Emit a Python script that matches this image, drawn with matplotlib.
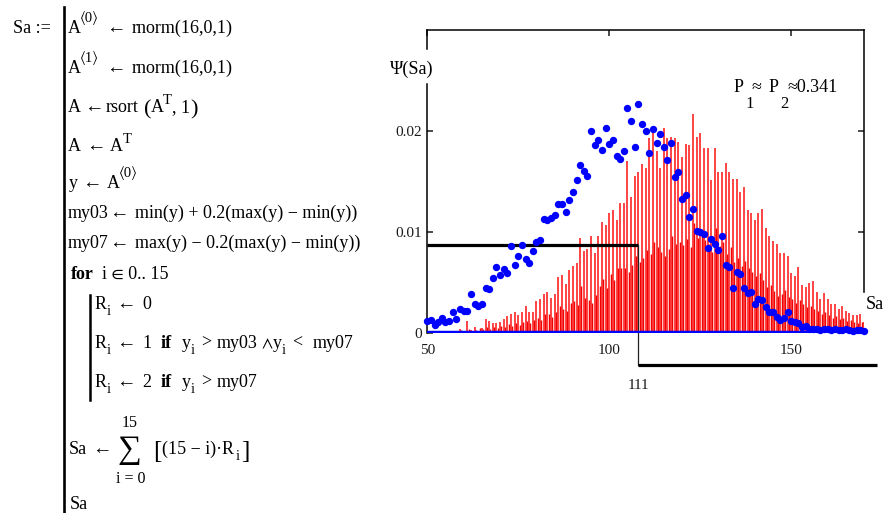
import numpy as np
import matplotlib
matplotlib.use("Agg")
import matplotlib.pyplot as plt
from matplotlib import transforms

# ---- data ---------------------------------------------------------------
sa = np.arange(50, 171)

# tall (light red) bars, one per Sa value
psi_tall = [0, 0, 0, 0, 0, 0, 0, 0, 0, 0.0004,
            0, 0.0012, 0.0003, 0.0006, 0.0002, 0.0005, 0.0014, 0.0012, 0.0010, 0.0010,
            0.0011, 0.0014, 0.0017, 0.0019, 0.0021, 0.0018, 0.0021, 0.0027, 0.0021, 0.0021,
            0.0032, 0.0034, 0.0039, 0.0041, 0.0035, 0.0039, 0.0055, 0.0057, 0.0049, 0.0062,
            0.0066, 0.0069, 0.0094, 0.0081, 0.0083, 0.0096, 0.0079, 0.0096, 0.0110, 0.0107,
            0.0119, 0.0122, 0.0112, 0.0129, 0.0129, 0.0170, 0.0135, 0.0155, 0.0159, 0.0167,
            0.0163, 0.0193, 0.0201, 0.0180, 0.0163, 0.0203, 0.0193, 0.0194, 0.0193, 0.0189,
            0.0174, 0.0187, 0.0186, 0.0217, 0.0194, 0.0198, 0.0183, 0.0183, 0.0151, 0.0183,
            0.0159, 0.0159, 0.0168, 0.0159, 0.0152, 0.0152, 0.0140, 0.0145, 0.0122, 0.0119,
            0.0112, 0.0119, 0.0123, 0.0104, 0.0096, 0.0091, 0.0088, 0.0079, 0.0079, 0.0076,
            0.0059, 0.0056, 0.0065, 0.0048, 0.0046, 0.0050, 0.0051, 0.0041, 0.0034, 0.0040,
            0.0034, 0.0029, 0.0029, 0.0024, 0.0027, 0.0022, 0.0020, 0.0018, 0.0018, 0.0019,
            0.0011]

# short (dark red) bars
psi_short = [0, 0, 0, 0, 0, 0, 0, 0, 0.0002, 0.0003,
             0.0002, 0.0004, 0.0002, 0.0003, 0.0005, 0.0004, 0.0006, 0.0004, 0.0006, 0.0005,
             0.0007, 0.0006, 0.0009, 0.0007, 0.0010, 0.0008, 0.0011, 0.0012, 0.0010, 0.0013,
             0.0015, 0.0013, 0.0019, 0.0019, 0.0016, 0.0021, 0.0027, 0.0024, 0.0022, 0.0030,
             0.0032, 0.0028, 0.0047, 0.0035, 0.0033, 0.0030, 0.0038, 0.0047, 0.0053, 0.0045,
             0.0058, 0.0052, 0.0064, 0.0064, 0.0064, 0.0060, 0.0067, 0.0076, 0.0070, 0.0074,
             0.0082, 0.0078, 0.0090, 0.0085, 0.0080, 0.0076, 0.0083, 0.0096, 0.0088, 0.0090,
             0.0087, 0.0093, 0.0085, 0.0109, 0.0094, 0.0099, 0.0092, 0.0088, 0.0080, 0.0104,
             0.0086, 0.0090, 0.0078, 0.0085, 0.0070, 0.0074, 0.0066, 0.0071, 0.0064, 0.0060,
             0.0056, 0.0059, 0.0052, 0.0046, 0.0048, 0.0042, 0.0037, 0.0039, 0.0043, 0.0036,
             0.0034, 0.0030, 0.0033, 0.0029, 0.0026, 0.0027, 0.0024, 0.0022, 0.0019, 0.0021,
             0.0018, 0.0015, 0.0017, 0.0014, 0.0015, 0.0012, 0.0013, 0.0011, 0.0010, 0.0011,
             0.0009]

# blue dots
psi_dots = [0.0012, 0.0013, 0.0008, 0.0011, 0.0015, 0.0011, 0.0012, 0.0021, 0.0014, 0.0024,
            0.0022, 0.0022, 0.0039, 0.0029, 0.0027, 0.0029, 0.0045, 0.0044, 0.0054, 0.0065,
            0.0057, 0.0063, 0.0059, 0.0086, 0.0067, 0.0076, 0.0087, 0.0073, 0.0069, 0.0081,
            0.0090, 0.0092, 0.0113, 0.0112, 0.0114, 0.0117, 0.0128, 0.0128, 0.0120, 0.0132,
            0.0140, 0.0151, 0.0166, 0.0160, 0.0155, 0.0200, 0.0186, 0.0191, 0.0181, 0.0203,
            0.0187, 0.0191, 0.0175, 0.0172, 0.0180, 0.0223, 0.0210, 0.0184, 0.0227, 0.0207,
            0.0200, 0.0178, 0.0202, 0.0188, 0.0197, 0.0184, 0.0171, 0.0188, 0.0154, 0.0159,
            0.0133, 0.0137, 0.0115, 0.0123, 0.0101, 0.0100, 0.0098, 0.0084, 0.0093, 0.0088,
            0.0082, 0.0096, 0.0067, 0.0065, 0.0045, 0.0060, 0.0058, 0.0045, 0.0040, 0.0041,
            0.0029, 0.0034, 0.0033, 0.0026, 0.0021, 0.0021, 0.0016, 0.0013, 0.0015, 0.0021,
            0.0012, 0.0011, 0.0010, 0.0006, 0.0007, 0.0004, 0.0004, 0.0004, 0.0003, 0.0004,
            0.0004, 0.0003, 0.0004, 0.0003, 0.0003, 0.0004, 0.0003, 0.0002, 0.0003, 0.0003,
            0.0002]

x_ticks = [50, 100, 150]
y_ticks = [0, 0.01, 0.02]
y_tick_labels = ["0", "0.01", "0.02"]
marker_x = 107.9      # where Mathcad drew the x-marker line
marker_label = "111"
marker_y = 0.0087
p_text = "0.341"

# ---- figure --------------------------------------------------------------
W, H = 889, 513
SERIF = ["Liberation Serif", "STIXGeneral", "DejaVu Serif"]
INK = "#1a1a1a"
BASE = 13.0
SUB = 10.5
ARR = 14

fig = plt.figure(figsize=(W / 100, H / 100), dpi=100)


def put(x, y, s, size=BASE, **kw):
    """text at pixel position (x left, y baseline from top)"""
    kw.setdefault("va", "baseline")
    kw.setdefault("ha", "left")
    fig.text(x / W, 1 - y / H, s, fontsize=size, family=SERIF, color="black", **kw)


# Mathcad program block
put(13, 33, "Sa :=")
fig.add_artist(plt.Line2D([64 / W, 64 / W], [1 - 7 / H, 0], color="black", lw=1.9))

put(68, 33, "A")
put(80, 22, "\u27e80\u27e9", size=SUB)
put(106, 33, "\u2190", size=ARR)
put(132, 33, "rnorm(16,0,1)")

put(68, 73, "A")
put(80, 62, "\u27e81\u27e9", size=SUB)
put(106, 73, "\u2190", size=ARR)
put(132, 73, "rnorm(16,0,1)")

put(68, 112, "A")
put(84, 112, "\u2190", size=ARR)
put(106, 112, "rsort")
put(144, 114, "(", size=16)
put(151, 112, "A")
put(163, 104, "T", size=SUB)
put(172, 112, ", 1")
put(190, 114, ")", size=16)

put(68, 151, "A")
put(86, 151, "\u2190", size=ARR)
put(110, 151, "A")
put(123, 143, "T", size=SUB)

put(69, 188, "y")
put(82, 188, "\u2190", size=ARR)
put(107, 188, "A")
put(119, 177, "\u27e80\u27e9", size=SUB)

put(68, 218, "my03")
put(109, 218, "\u2190", size=ARR)
put(135, 218, "min(y) + 0.2(max(y) \u2212 min(y))")

put(68, 248, "my07")
put(109, 248, "\u2190", size=ARR)
put(135, 248, "max(y) \u2212 0.2(max(y) \u2212 min(y))")

put(71, 279, "for", weight="bold")
put(102, 279, "i \u2208 0.. 15")
fig.add_artist(plt.Line2D([90 / W, 90 / W], [1 - 295 / H, 1 - 400 / H], color="black", lw=1.8))

rows = [(309, "0", None), (348, "1", "my03"), (387, "2", "my07")]
for yb, val, rest in rows:
    put(95, yb, "R")
    put(107, yb + 6, "i", size=SUB)
    put(116, yb, "\u2190", size=ARR)
    put(142, yb, val)
    if rest is None:
        continue
    put(161, yb, "if", weight="bold")
    put(182, yb, "y")
    put(191, yb + 6, "i", size=SUB)
    put(201, yb, ">")
    put(217, yb, rest)
    if rest == "my03":
        put(261, yb, "\u2227")
        put(273, yb, "y")
        put(282, yb + 6, "i", size=SUB)
        put(292, yb, "<")
        put(313, yb, "my07")

put(130, 427, "15", size=11.5, ha="center")
put(69, 454, "Sa")
put(92, 454, "\u2190", size=ARR)
put(129, 458, "\u2211", size=24, ha="center")
put(153, 458, "[", size=18)
put(162, 454, "(15 \u2212 i)\u00b7R")
put(236, 460, "i", size=SUB)
put(241, 458, "]", size=18)
put(131, 483, "i = 0", size=11.5, ha="center")
put(70, 509, "Sa")

# ---- plot ----------------------------------------------------------------
ax = fig.add_axes([427.3 / W, 1 - 333 / H, 436.7 / W, 303 / H])
ax.set_xlim(50, 170)
ax.set_ylim(0, 0.03)

ax.vlines(sa, 0, psi_tall, colors="#ff3c3c", lw=1.35, zorder=2)
ax.vlines(sa + 0.35, 0, psi_short, colors="#f00000", lw=1.05, zorder=2)

ax.plot([50, marker_x], [marker_y, marker_y], color="black", lw=2.3,
        solid_capstyle="butt", zorder=3)
ax.plot([marker_x, marker_x], [marker_y, -0.104 * 0.03], color="#222222", lw=0.9,
        clip_on=False, zorder=3)
ax.plot([marker_x, 50 + 1.029 * 120], [-0.104 * 0.03] * 2, color="black", lw=2.3,
        solid_capstyle="butt", clip_on=False, zorder=3)
tr = transforms.blended_transform_factory(ax.transData, ax.transAxes)
ax.text(marker_x, -0.185, marker_label, transform=tr, ha="center", va="baseline",
        fontsize=11, family=SERIF, color=INK)

ax.plot(sa, psi_dots, "o", color="#0000ff", ms=5.3, mec="none", zorder=4, clip_on=False)
ax.axhline(0, color="#0000ff", lw=3.2, zorder=5)

# frame as Mathcad draws it (gaps where the axis labels sit)
for s in ("left", "right", "bottom"):
    ax.spines[s].set_visible(False)
ax.spines["top"].set_linewidth(1.1)
ax.plot([0, 0], [1, 0.937], transform=ax.transAxes, color="black", lw=1.1, clip_on=False)
ax.plot([0, 0], [0.821, 0], transform=ax.transAxes, color="black", lw=1.1, clip_on=False)
ax.plot([1, 1], [1, 0.136], transform=ax.transAxes, color="black", lw=1.1, clip_on=False)

ax.set_xticks(x_ticks)
ax.set_yticks(y_ticks)
ax.set_yticklabels(y_tick_labels)
ax.tick_params(direction="in", length=4, width=1.1, top=True, right=True,
               labelsize=11, colors=INK, pad=4)
ax.tick_params(axis="x", bottom=False, pad=8)
for lab in ax.get_xticklabels() + ax.get_yticklabels():
    lab.set_family(SERIF)

put(390, 74, "\u03a8(Sa)", size=13)
put(866, 309, "Sa", size=13)
put(734, 92, "P", size=13)
put(745, 108, "1", size=12)
put(752, 92, "\u2248", size=13)
put(769, 92, "P", size=13)
put(780, 108, "2", size=12)
put(788, 92, "\u2248" + p_text, size=13)

fig.savefig("out.png", dpi=100)
